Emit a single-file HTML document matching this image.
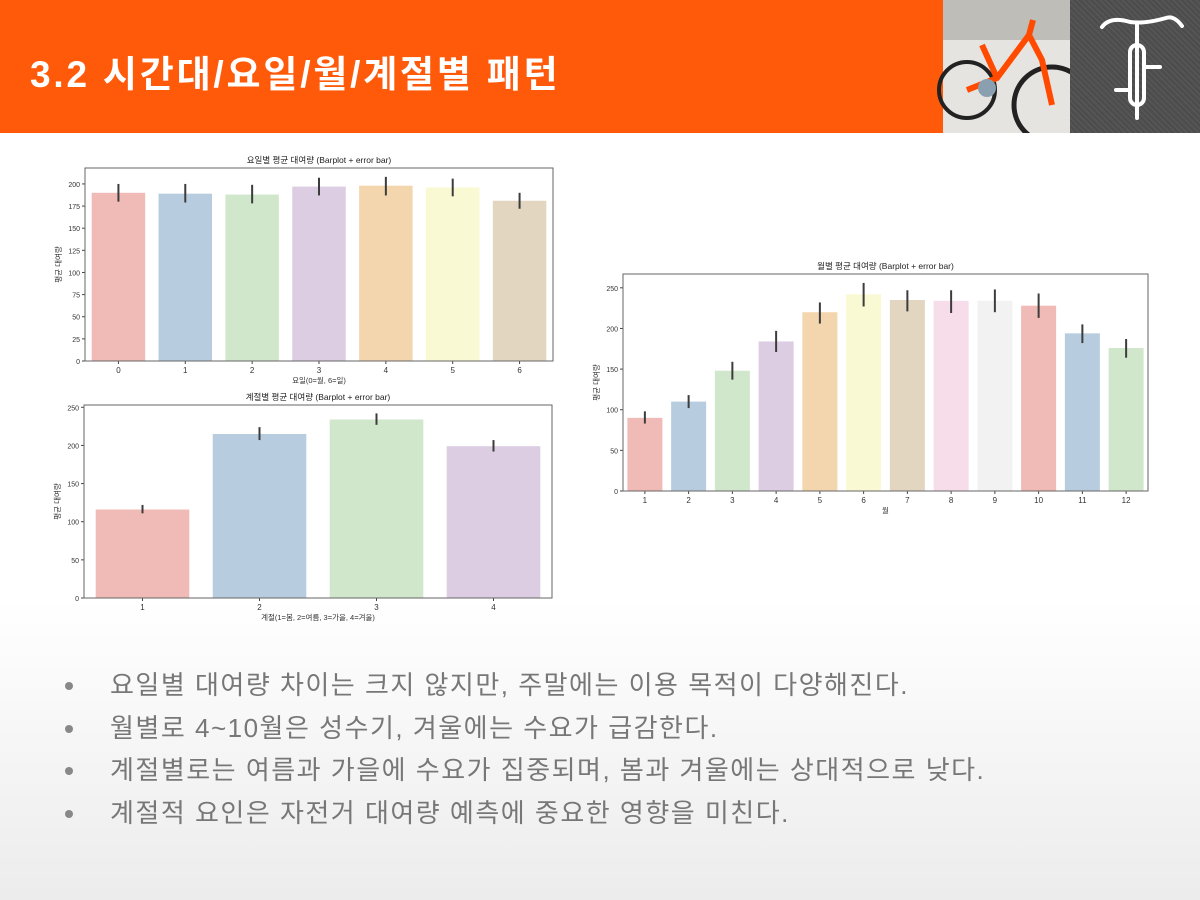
<!DOCTYPE html>
<html><head><meta charset="utf-8"><style>
body{margin:0;width:1200px;height:900px;overflow:hidden;font-family:"Liberation Sans","Noto Sans CJK KR",sans-serif;background:linear-gradient(#fff 0,#fff 600px,#ececec 900px);position:relative}
#hdr{position:absolute;left:0;top:0;width:937px;height:133px;background:#ff5a0a}
#title{position:absolute;left:30px;top:44px;color:#fff;font-size:37px;letter-spacing:2.8px;font-weight:bold;margin:0}
#photo{position:absolute;left:937px;top:0;width:133px;height:133px;background:#e6e4e0;overflow:hidden}
#logo{position:absolute;left:1070px;top:0;width:130px;height:133px;background:repeating-linear-gradient(45deg,#4c4c4c 0 2px,#555 2px 4px)}
ul{position:absolute;left:60px;top:664px;margin:0;padding:0;list-style:none}
li{font-size:26px;letter-spacing:1.5px;color:#777;height:42.5px;line-height:42px;position:relative;padding-left:50px;white-space:nowrap}
li:before{content:"";position:absolute;left:5px;top:18px;width:8px;height:8px;border-radius:50%;background:#888}
svg text{font-family:"Liberation Sans","Noto Sans CJK KR",sans-serif}
</style></head><body>
<div id="hdr"></div>
<h1 id="title">3.2 시간대/요일/월/계절별 패턴</h1>
<div id="photo">
<svg width="133" height="133">
<rect x="0" y="0" width="6" height="133" fill="#ff5a0a"/>
<rect x="6" y="0" width="127" height="40" fill="#bfbdb8"/>
<circle cx="30" cy="90" r="28" fill="none" stroke="#222" stroke-width="4"/>
<circle cx="115" cy="105" r="38" fill="none" stroke="#222" stroke-width="5"/>
<path d="M30 90 L60 78 L92 35 L105 60 L115 105 M60 78 L45 45 M92 35 L96 20" stroke="#ff4a00" stroke-width="6" fill="none"/>
<circle cx="50" cy="88" r="9" fill="#8aa0b0"/>
</svg></div>
<div id="logo">
<svg width="130" height="133"><g stroke="#fff" stroke-width="4" fill="none" stroke-linecap="round">
<path d="M32 27 Q40 16 60 22 Q75 24 96 18 Q104 15 112 26"/><line x1="67" y1="24" x2="67" y2="118"/>
<rect x="60" y="45" width="14" height="60" rx="7"/><line x1="74" y1="67" x2="90" y2="67"/><line x1="46" y1="90" x2="60" y2="90"/></g></svg></div>

<svg id="charts" width="1200" height="640" style="position:absolute;left:0;top:0"></svg>

<ul>
<li>요일별 대여량 차이는 크지 않지만, 주말에는 이용 목적이 다양해진다.</li>
<li>월별로 4~10월은 성수기, 겨울에는 수요가 급감한다.</li>
<li>계절별로는 여름과 가을에 수요가 집중되며, 봄과 겨울에는 상대적으로 낮다.</li>
<li>계절적 요인은 자전거 대여량 예측에 중요한 영향을 미친다.</li>
</ul>
<script>
const dayCats=["0","1","2","3","4","5","6"];
const dayVals=[190,189,188,197,198,196,181];
const dayLo=[180,179,178,187,187,186,172];
const dayHi=[200,200,199,207,208,206,190];
const dayTicks=[0,25,50,75,100,125,150,175,200];
const seaCats=["1","2","3","4"];
const seaVals=[116,215,234,199];
const seaLo=[111,207,227,192];
const seaHi=[122,224,242,207];
const seaTicks=[0,50,100,150,200,250];
const monCats=["1","2","3","4","5","6","7","8","9","10","11","12"];
const monVals=[90,110,148,184,220,242,235,234,234,228,194,176];
const monLo=[83,102,137,171,206,227,221,219,220,213,182,164];
const monHi=[98,118,159,197,232,256,247,247,248,243,205,187];
const monTicks=[0,50,100,150,200,250];
const pal=["#f0bab6","#b8ccdf","#d1e7cb","#dccde2","#f3d6ae","#f9f9d3","#e2d6c1","#f7dde9","#f2f2f2"];
const NS="http://www.w3.org/2000/svg";
const svg=document.getElementById('charts');
function el(t,a,p){const e=document.createElementNS(NS,t);for(const k in a)e.setAttribute(k,a[k]);(p||svg).appendChild(e);return e;}
function chart(name,L,R,T,B,ymax,cats,vals,lo,hi,ticks,title,xlabel){
  const g=el('g',{});
  
  
  const y=v=>B-(v/ymax)*(B-T);
  const bw=(R-L)/cats.length;
  const x=i=>L+bw*(i+0.5);
  cats.forEach((c,i)=>{
    const r=el('rect',{x:x(i)-bw*0.4,y:y(vals[i]),width:bw*0.8,height:B-y(vals[i]),fill:pal[i%pal.length]},g);
    
    
    const e=el('line',{x1:x(i),x2:x(i),y1:y(lo[i]),y2:y(hi[i]),stroke:'#3c3c3c','stroke-width':2},g);
    
    
    el('line',{x1:x(i),x2:x(i),y1:B,y2:B+3,stroke:'#444'},g);
    const t=el('text',{x:x(i),y:B+12,'font-size':8,'text-anchor':'middle',fill:'#333'},g);t.textContent=c;
  });
  ticks.forEach(v=>{
    el('line',{x1:L-3,x2:L,y1:y(v),y2:y(v),stroke:'#444'},g);
    const t=el('text',{x:L-5,y:y(v)+3,'font-size':7,'text-anchor':'end',fill:'#333'},g);t.textContent=v;
  });
  el('rect',{x:L,y:T,width:R-L,height:B-T,fill:'none',stroke:'#666','stroke-width':1},g);
  const tt=el('text',{x:(L+R)/2,y:T-5,'font-size':8.5,'text-anchor':'middle',fill:'#222'},g);tt.textContent=title;
  
  
  const xl=el('text',{x:(L+R)/2,y:B+22,'font-size':7.5,'text-anchor':'middle',fill:'#333'},g);xl.textContent=xlabel;
  
  
  const cy=(T+B)/2;
  const yl=el('text',{x:L-24,y:cy,'font-size':7.5,'text-anchor':'middle',fill:'#333',transform:`rotate(-90 ${L-24} ${cy})`},g);yl.textContent='평균 대여량';
  
  
}
chart('weekday-chart',85,553,168,361,218,dayCats,dayVals,dayLo,dayHi,dayTicks,'요일별 평균 대여량 (Barplot + error bar)','요일(0=월, 6=일)');
chart('season-chart',84,552,405,598,253,seaCats,seaVals,seaLo,seaHi,seaTicks,'계절별 평균 대여량 (Barplot + error bar)','계절(1=봄, 2=여름, 3=가을, 4=겨울)');
chart('month-chart',623,1148,274,491,267,monCats,monVals,monLo,monHi,monTicks,'월별 평균 대여량 (Barplot + error bar)','월');
</script>
</body></html>
